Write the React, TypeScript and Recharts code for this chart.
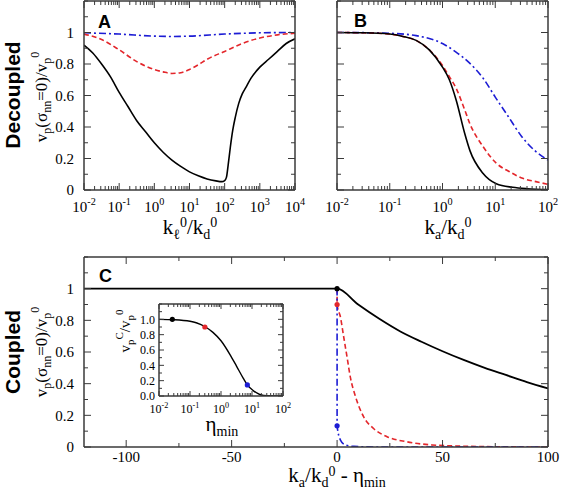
import React from 'react';
import { ComposedChart, Line, Scatter, XAxis, YAxis } from 'recharts';

const W = 561;
const H = 497;
const SERIF = '"Liberation Serif", "Times New Roman", serif';
const SANS = '"Liberation Sans", Arial, Helvetica, sans-serif';
const FRAME = '#3a3a3a';
const RED = '#e3262b';
const BLUE = '#1c1cd4';
const BLACK = '#000000';

// panel A: x is log10(k_l^0 / k_d^0)
const aBlackLogK = [-2, -1.75, -1.5, -1.25, -1, -0.75, -0.5, -0.25, 0, 0.25, 0.5, 0.75, 1, 1.25, 1.5, 1.75, 1.92, 2.0, 2.05, 2.1, 2.16, 2.23, 2.3, 2.4, 2.5, 2.6, 2.75, 3.0, 3.25, 3.5, 3.75, 4];
const aBlackV = [0.92, 0.87, 0.8, 0.72, 0.62, 0.53, 0.44, 0.37, 0.3, 0.24, 0.19, 0.15, 0.115, 0.09, 0.07, 0.058, 0.053, 0.06, 0.08, 0.16, 0.27, 0.38, 0.46, 0.55, 0.61, 0.65, 0.71, 0.78, 0.83, 0.88, 0.93, 0.96];
const aRedLogK = [-2, -1.5, -1, -0.5, 0, 0.25, 0.5, 0.75, 1, 1.25, 1.5, 2, 2.5, 3, 3.5, 4];
const aRedV = [0.99, 0.955, 0.89, 0.815, 0.765, 0.75, 0.74, 0.745, 0.765, 0.795, 0.83, 0.88, 0.93, 0.965, 0.985, 0.995];
const aBlueLogK = [-2, -1, 0, 0.5, 1, 2, 3, 4];
const aBlueV = [0.998, 0.99, 0.977, 0.975, 0.977, 0.99, 0.998, 1.0];

// panel B: x is log10(k_a / k_d^0)
const bBlackLogK = [-2, -1.5, -1, -0.75, -0.5, -0.25, 0, 0.13, 0.26, 0.42, 0.52, 0.77, 1.02, 1.33, 1.6, 2];
const bBlackV = [1.0, 0.998, 0.99, 0.975, 0.95, 0.89, 0.78, 0.7, 0.57, 0.36, 0.25, 0.105, 0.04, 0.017, 0.008, 0.003];
const bRedLogK = [-2, -1.5, -1, -0.75, -0.5, -0.25, 0, 0.13, 0.26, 0.42, 0.52, 0.77, 1.02, 1.27, 1.52, 1.77, 2];
const bRedV = [1.0, 0.998, 0.99, 0.975, 0.95, 0.89, 0.79, 0.72, 0.645, 0.51, 0.42, 0.275, 0.17, 0.116, 0.074, 0.053, 0.036];
const bBlueLogK = [-2, -1.5, -1, -0.5, 0, 0.25, 0.5, 0.77, 1, 1.25, 1.5, 1.75, 2];
const bBlueV = [1.0, 0.999, 0.995, 0.98, 0.93, 0.877, 0.81, 0.71, 0.59, 0.465, 0.34, 0.25, 0.19];

// panel C: x is k_a/k_d^0 - eta_min
const cBlackX = [-120, 0, 10, 20, 30, 40, 50, 60, 70, 80, 90, 100];
const cBlackV = [1, 1, 0.9, 0.81, 0.73, 0.665, 0.605, 0.55, 0.5, 0.455, 0.41, 0.37];
const cRedX = [0, 0, 1.6, 3.2, 4.7, 6.3, 8.7, 12.6, 17.3, 23.7, 33, 45, 60, 80, 100];
const cRedV = [1, 0.9, 0.82, 0.69, 0.57, 0.44, 0.32, 0.19, 0.117, 0.065, 0.033, 0.013, 0.005, 0.001, 0];
const cBlueX = [0, 0, 1.6, 3.9, 8, 20, 100];
const cBlueV = [1, 0.134, 0.044, 0.013, 0.004, 0, 0];
const cMarkX = [0, 0, 0];
const cMarkV = [1, 0.9, 0.134];
const markColors = [BLACK, RED, BLUE];

// inset: x is log10(eta_min)
const insetLogEta = [-2, -1.5, -1, -0.8, -0.5, -0.26, 0, 0.29, 0.5, 0.72, 0.85, 1.04, 1.25, 1.5, 2];
const insetV = [1.0, 0.995, 0.975, 0.955, 0.9, 0.83, 0.72, 0.54, 0.39, 0.23, 0.145, 0.07, 0.02, 0.003, 0];
const insetMarkLog = [-1.57, -0.52, 0.85];
const insetMarkV = [1.0, 0.9, 0.145];

type Pt = { x: number; y: number; c?: string };
const pts = (xs: number[], ys: number[], log = false): Pt[] =>
  xs.map((x, i) => ({ x: log ? Math.pow(10, x) : x, y: ys[i] }));

const logTicks = (lo: number, hi: number) => {
  const out: number[] = [];
  for (let n = lo; n < hi; n++) for (let k = 1; k < 10; k++) out.push(k * Math.pow(10, n));
  out.push(Math.pow(10, hi));
  return out;
};
const decades = (lo: number, hi: number) => {
  const out: number[] = [];
  for (let n = lo; n <= hi; n++) out.push(Math.pow(10, n));
  return out;
};
const steps = (lo: number, hi: number, st: number) => {
  const out: number[] = [];
  for (let v = lo; v <= hi + 1e-9; v += st) out.push(Math.round(v * 1000) / 1000);
  return out;
};

type Side = 'bottom' | 'top' | 'left' | 'right';
interface TickCfg {
  side: Side;
  major: number[];
  fmt?: (v: number) => React.ReactNode;
  fs: number;
  len: number;
  minorLen: number;
  gap: number;
}

const isIn = (arr: number[], v: number) =>
  arr.some((m) => Math.abs(m - v) < 1e-6 * Math.max(1e-3, Math.abs(m)));

function makeTick(cfg: TickCfg) {
  return (p: any) => {
    const { x, y, payload } = p;
    const v = payload.value;
    const major = isIn(cfg.major, v);
    const l = major ? cfg.len : cfg.minorLen;
    const d = { bottom: [0, -l], top: [0, l], left: [l, 0], right: [-l, 0] }[cfg.side];
    const lab = major && cfg.fmt ? cfg.fmt(v) : null;
    return (
      <g>
        <line x1={x} y1={y} x2={x + d[0]} y2={y + d[1]} stroke={FRAME} strokeWidth={1} />
        {lab != null && cfg.side === 'bottom' && (
          <text x={x} y={y + cfg.gap} textAnchor="middle" fontFamily={SERIF} fontSize={cfg.fs} fill="#000">
            {lab}
          </text>
        )}
        {lab != null && cfg.side === 'left' && (
          <text x={x - cfg.gap} y={y} dy="0.35em" textAnchor="end" fontFamily={SERIF} fontSize={cfg.fs} fill="#000">
            {lab}
          </text>
        )}
      </g>
    );
  };
}

const pow10Fmt = (fs: number) => (v: number) => {
  const e = Math.round(Math.log10(v));
  return (
    <>
      10<tspan dy={-fs * 0.45} fontSize={fs * 0.68}>{e}</tspan>
    </>
  );
};

interface Series {
  data: Pt[];
  color: string;
  dash?: string;
  width?: number;
}

interface PanelProps {
  box: { l: number; t: number; r: number; b: number };
  xDomain: [number, number];
  yDomain: [number, number];
  xLog?: boolean;
  xTicks: number[];
  xMajor: number[];
  xFmt?: (v: number) => React.ReactNode;
  yTicks: number[];
  yMajor: number[];
  yFmt?: (v: number) => React.ReactNode;
  series: Series[];
  marks?: Pt[];
  fs: number;
  len: number;
  minorLen: number;
  xGap: number;
  yGap: number;
}

// axes need a non-zero size to be drawn, so each one gets 1px of the margin
function Panel(p: PanelProps) {
  const axisLine = { stroke: FRAME, strokeWidth: 1.5 };
  const tickCfg = (side: Side, major: number[], fmt: any, gap: number) =>
    makeTick({ side, major, fmt, fs: p.fs, len: p.len, minorLen: p.minorLen, gap });
  const xCommon = {
    dataKey: 'x',
    type: 'number' as const,
    scale: (p.xLog ? 'log' : 'linear') as any,
    domain: p.xDomain,
    allowDataOverflow: true,
    ticks: p.xTicks,
    interval: 0 as const,
    height: 1,
    tickSize: 0,
    tickMargin: 0,
    tickLine: false,
    axisLine,
  };
  const yCommon = {
    dataKey: 'y',
    type: 'number' as const,
    domain: p.yDomain,
    allowDataOverflow: true,
    ticks: p.yTicks,
    interval: 0 as const,
    width: 1,
    tickSize: 0,
    tickMargin: 0,
    tickLine: false,
    axisLine,
  };
  return (
    <div style={{ position: 'absolute', left: 0, top: 0 }}>
      <ComposedChart
        width={W}
        height={H}
        margin={{ top: p.box.t - 1, left: p.box.l - 1, right: W - p.box.r - 1, bottom: H - p.box.b - 1 }}
      >
        <XAxis xAxisId="b" {...xCommon} tick={tickCfg('bottom', p.xMajor, p.xFmt, p.xGap)} />
        <XAxis xAxisId="t" orientation="top" {...xCommon} tick={tickCfg('top', p.xMajor, undefined, 0)} />
        <YAxis yAxisId="l" {...yCommon} tick={tickCfg('left', p.yMajor, p.yFmt, p.yGap)} />
        <YAxis yAxisId="r" orientation="right" {...yCommon} tick={tickCfg('right', p.yMajor, undefined, 0)} />
        {p.series.map((s, i) => (
          <Line
            key={i}
            xAxisId="b"
            yAxisId="l"
            data={s.data}
            dataKey="y"
            type="monotone"
            stroke={s.color}
            strokeWidth={s.width ?? 1.6}
            strokeDasharray={s.dash}
            dot={false}
            isAnimationActive={false}
          />
        ))}
        {p.marks && (
          <Scatter
            xAxisId="b"
            yAxisId="l"
            data={p.marks}
            dataKey="y"
            isAnimationActive={false}
            shape={(sp: any) => <circle cx={sp.cx} cy={sp.cy} r={2.6} fill={sp.payload.c} />}
          />
        )}
      </ComposedChart>
    </div>
  );
}

const DASH = '5 3';
const DASHDOT = '7 3 2 3';

const mainYTicks = steps(0, 1.2, 0.1);
const mainYMajor = steps(0, 1, 0.2);
const mainYFmt = (v: number) => (v === 0 ? '0' : v === 1 ? '1' : v.toFixed(1));

function YLabel({ cx, cy }: { cx: number; cy: number }) {
  return (
    <text transform={`translate(${cx},${cy}) rotate(-90)`} textAnchor="middle" fontFamily={SERIF} fontSize={17} fill="#000">
      v<tspan dy={4} fontSize={12}>p</tspan>
      <tspan dy={-4}>(σ</tspan>
      <tspan dy={4} fontSize={12}>nn</tspan>
      <tspan dy={-4}>=0)/v</tspan>
      <tspan dy={4} fontSize={12}>p</tspan>
      <tspan dy={-12} fontSize={12}>0</tspan>
    </text>
  );
}

export default function App() {
  const marksC: Pt[] = cMarkX.map((x, i) => ({ x, y: cMarkV[i], c: markColors[i] }));
  const marksInset: Pt[] = insetMarkLog.map((x, i) => ({ x: Math.pow(10, x), y: insetMarkV[i], c: markColors[i] }));
  return (
    <div style={{ position: 'absolute', left: 0, top: 0, width: W, height: H, background: '#fff' }}>
      <Panel
        box={{ l: 84, t: 1, r: 295, b: 190 }}
        xDomain={[0.01, 10000]}
        yDomain={[0, 1.2]}
        xLog
        xTicks={logTicks(-2, 4)}
        xMajor={decades(-2, 4)}
        xFmt={pow10Fmt(15)}
        yTicks={mainYTicks}
        yMajor={mainYMajor}
        yFmt={mainYFmt}
        series={[
          { data: pts(aBlueLogK, aBlueV, true), color: BLUE, dash: DASHDOT },
          { data: pts(aRedLogK, aRedV, true), color: RED, dash: DASH },
          { data: pts(aBlackLogK, aBlackV, true), color: BLACK },
        ]}
        fs={15}
        len={7}
        minorLen={4}
        xGap={22}
        yGap={10}
      />
      <Panel
        box={{ l: 337, t: 1, r: 548, b: 190 }}
        xDomain={[0.01, 100]}
        yDomain={[0, 1.2]}
        xLog
        xTicks={logTicks(-2, 2)}
        xMajor={decades(-2, 2)}
        xFmt={pow10Fmt(15)}
        yTicks={mainYTicks}
        yMajor={mainYMajor}
        series={[
          { data: pts(bBlueLogK, bBlueV, true), color: BLUE, dash: DASHDOT },
          { data: pts(bRedLogK, bRedV, true), color: RED, dash: DASH },
          { data: pts(bBlackLogK, bBlackV, true), color: BLACK },
        ]}
        fs={15}
        len={7}
        minorLen={4}
        xGap={22}
        yGap={10}
      />
      <Panel
        box={{ l: 84, t: 257, r: 548, b: 447 }}
        xDomain={[-120, 100]}
        yDomain={[0, 1.2]}
        xTicks={steps(-100, 100, 25)}
        xMajor={steps(-100, 100, 50)}
        xFmt={(v) => String(v)}
        yTicks={mainYTicks}
        yMajor={mainYMajor}
        yFmt={mainYFmt}
        series={[
          { data: pts(cBlackX, cBlackV), color: BLACK, width: 1.8 },
          { data: pts(cRedX, cRedV), color: RED, dash: DASH },
          { data: pts(cBlueX, cBlueV), color: BLUE, dash: DASHDOT },
        ]}
        marks={marksC}
        fs={15}
        len={7}
        minorLen={4}
        xGap={15}
        yGap={10}
      />
      <Panel
        box={{ l: 159, t: 304, r: 283, b: 396 }}
        xDomain={[0.01, 100]}
        yDomain={[0, 1.2]}
        xLog
        xTicks={logTicks(-2, 2)}
        xMajor={decades(-2, 2)}
        xFmt={pow10Fmt(12)}
        yTicks={steps(0, 1.2, 0.1)}
        yMajor={steps(0, 1, 0.2)}
        yFmt={(v) => v.toFixed(1)}
        series={[{ data: pts(insetLogEta, insetV, true), color: BLACK, width: 1.4 }]}
        marks={marksInset}
        fs={12}
        len={5}
        minorLen={3}
        xGap={17}
        yGap={4}
      />
      <svg width={W} height={H} style={{ position: 'absolute', left: 0, top: 0, pointerEvents: 'none' }}>
        <text x={98} y={28} fontFamily={SANS} fontWeight="bold" fontSize={18} fill="#000">A</text>
        <text x={354} y={27} fontFamily={SANS} fontWeight="bold" fontSize={18} fill="#000">B</text>
        <text x={99} y={282} fontFamily={SANS} fontWeight="bold" fontSize={18} fill="#000">C</text>

        <text transform="translate(20,95) rotate(-90)" textAnchor="middle" fontFamily={SANS} fontWeight="bold" fontSize={21} fill="#000">
          Decoupled
        </text>
        <text transform="translate(20,352) rotate(-90)" textAnchor="middle" fontFamily={SANS} fontWeight="bold" fontSize={21} fill="#000">
          Coupled
        </text>

        <YLabel cx={47} cy={97} />
        <YLabel cx={47} cy={352} />

        <text x={190} y={234} textAnchor="middle" fontFamily={SERIF} fontSize={21} fill="#000">
          k<tspan dy={5} fontSize={14}>ℓ</tspan>
          <tspan dy={-12} fontSize={14}>0</tspan>
          <tspan dy={7}>/k</tspan>
          <tspan dy={5} fontSize={14}>d</tspan>
          <tspan dy={-12} fontSize={14}>0</tspan>
        </text>
        <text x={448} y={234} textAnchor="middle" fontFamily={SERIF} fontSize={21} fill="#000">
          k<tspan dy={5} fontSize={14}>a</tspan>
          <tspan dy={-5}>/k</tspan>
          <tspan dy={5} fontSize={14}>d</tspan>
          <tspan dy={-12} fontSize={14}>0</tspan>
        </text>
        <text x={337} y={482} textAnchor="middle" fontFamily={SERIF} fontSize={21} fill="#000">
          k<tspan dy={5} fontSize={14}>a</tspan>
          <tspan dy={-5}>/k</tspan>
          <tspan dy={5} fontSize={14}>d</tspan>
          <tspan dy={-11} fontSize={14}>0</tspan>
          <tspan dy={6}> - η</tspan>
          <tspan dy={5} fontSize={14}>min</tspan>
        </text>

        <text transform="translate(130,331) rotate(-90)" textAnchor="middle" fontFamily={SERIF} fontSize={15} fill="#000">
          v<tspan dy={4} fontSize={11}>p</tspan>
          <tspan dy={-11} fontSize={11}>C</tspan>
          <tspan dy={7}>/v</tspan>
          <tspan dy={4} fontSize={11}>p</tspan>
          <tspan dy={-11} fontSize={11}>0</tspan>
        </text>
        <text x={222} y={431} textAnchor="middle" fontFamily={SERIF} fontSize={21} fill="#000">
          η<tspan dy={5} fontSize={14}>min</tspan>
        </text>
      </svg>
    </div>
  );
}
